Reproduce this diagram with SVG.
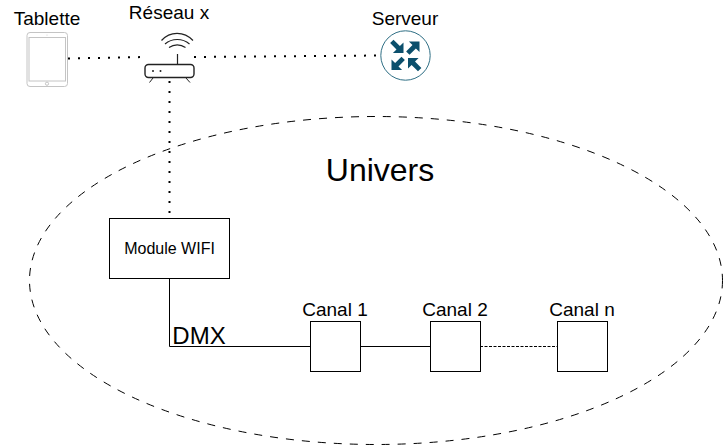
<svg xmlns="http://www.w3.org/2000/svg" width="723" height="445" viewBox="0 0 723 445">
<style>
text{font-family:"Liberation Sans",Arial,sans-serif;fill:#000;text-anchor:middle}
.l{font-size:19px}
.box{fill:#fff;stroke:#000;stroke-width:1}
.c{fill:none;stroke:#000;stroke-width:1}
.dots{fill:none;stroke:#000;stroke-width:2;stroke-dasharray:2 8}
.arrow{fill:#0b4f6c}
</style>
<defs>
<path id="ar" d="M0 0L-7.500-7.500V-2.400H-16.500V2.400H-7.500V7.500Z"/>
</defs>
<rect width="723" height="445" fill="#fff"/>
<g id="univers">
<ellipse cx="376" cy="280.500" rx="346.500" ry="164" fill="none" stroke="#000" stroke-dasharray="8 8"/>
<text x="380" y="181" font-size="32">Univers</text>
</g>
<g id="connectors">
<path class="dots" d="M68 58.500L145 57"/>
<path class="dots" d="M194 57L380 55.500"/>
<path class="dots" d="M169.500 81V218"/>
<path class="c" d="M169.500 278V346.500H310"/>
<path class="c" d="M360 346.500H430"/>
<path class="c" d="M480 346.500H557" stroke-dasharray="3 1.500"/>
<text x="199" y="344" font-size="24">DMX</text>
</g>
<g id="tablette">
<text class="l" x="47" y="25">Tablette</text>
<rect x="27" y="32.500" width="40.500" height="54" rx="3" fill="#fff" stroke="#c4c4c4"/>
<rect x="29" y="37.500" width="36.500" height="43.500" fill="#fff" stroke="#c4c4c4"/>
<circle cx="47" cy="83.700" r="1.600" fill="#fff" stroke="#c4c4c4"/>
<circle cx="47" cy="35" r="0.500" fill="#c4c4c4"/>
</g>
<g id="reseau">
<text class="l" x="169" y="19">Réseau x</text>
<path d="M161.500 40.500C170 31 184 31 193 40.500M165 44C172 38 182.500 38 189.500 44M169 47.500C174 44 180.500 44 185.500 47.500" fill="none" stroke="#222" stroke-width="1.200"/>
<path d="M177.500 54V65" stroke="#222" stroke-width="1.200"/>
<rect x="145" y="64.500" width="49" height="13" rx="3.500" fill="#fff" stroke="#222" stroke-width="1.400"/>
<circle cx="153" cy="71" r="1" fill="#222"/><circle cx="160.500" cy="71" r="1" fill="#222"/>
<path d="M153 78L149.500 82.500M186 78L190 82.500" stroke="#222"/>
</g>
<g id="serveur">
<text class="l" x="405" y="25">Serveur</text>
<circle cx="405.500" cy="55.500" r="24.700" fill="#fff" stroke="#2f6f85"/>
<g class="arrow">
<use href="#ar" transform="translate(403.500 53) rotate(45)"/>
<use href="#ar" transform="translate(419.500 41.500) rotate(-45)"/>
<use href="#ar" transform="translate(391.500 70) rotate(135)"/>
<use href="#ar" transform="translate(408 58) rotate(225)"/>
</g>
</g>
<g id="module-wifi">
<rect class="box" x="109.500" y="218.500" width="120" height="60"/>
<text x="169.500" y="254" font-size="16">Module WIFI</text>
</g>
<g id="canal-1">
<rect class="box" x="310.500" y="321.500" width="50" height="50"/>
<text class="l" x="335" y="316">Canal 1</text>
</g>
<g id="canal-2">
<rect class="box" x="430.500" y="321.500" width="50" height="50"/>
<text class="l" x="455" y="316">Canal 2</text>
</g>
<g id="canal-n">
<rect class="box" x="557.500" y="321.500" width="50" height="50"/>
<text class="l" x="582" y="316">Canal n</text>
</g>
</svg>
